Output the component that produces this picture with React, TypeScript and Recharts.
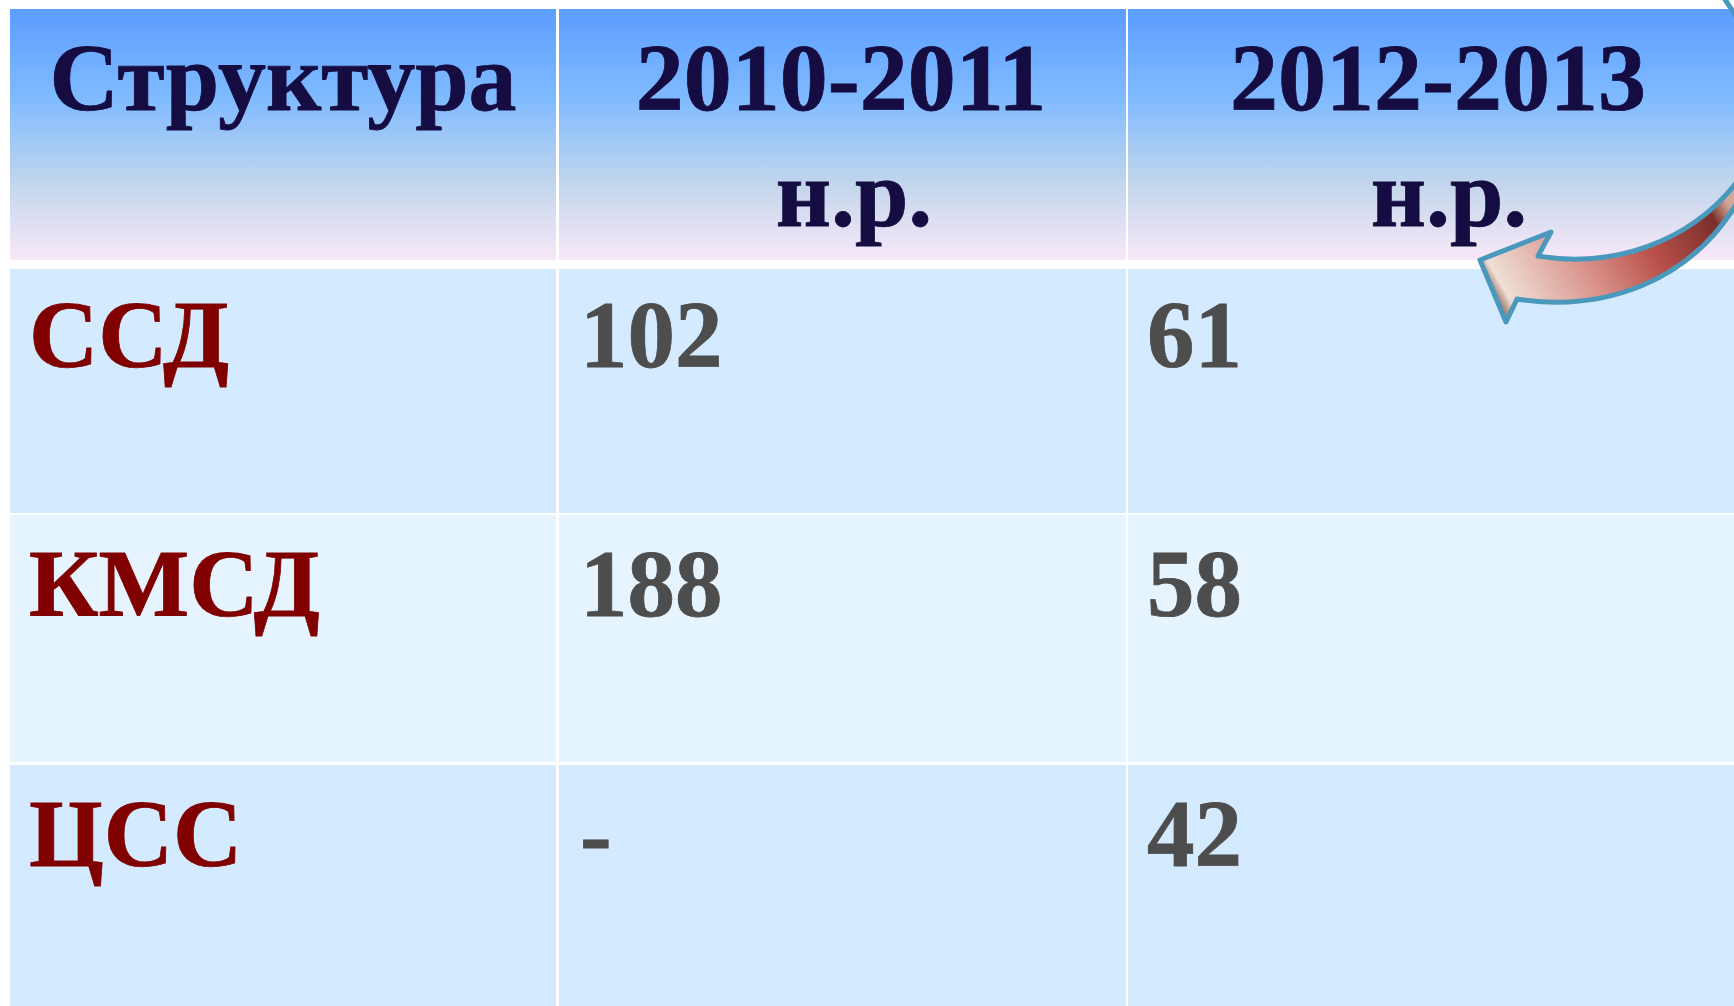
import { ScatterChart, Scatter, XAxis, YAxis, ReferenceArea } from "recharts";

const columns = ["Структура", "2010-2011", "2012-2013"];
const periodUnit = "н.р.";
const rows = ["ССД", "КМСД", "ЦСС"];
const values2011 = ["102", "188", "-"];
const values2013 = ["61", "58", "42"];

// table layout, in page pixels (the axes run 1:1 with the page)
const W = 1734;
const H = 1006;
const colEdges = [[10, 556], [559, 1126], [1128, 1734]];
const rowEdges = [[269, 513], [515, 762], [765, 1006]];
const rowFills = ["#d3eaff", "#e6f4ff", "#d3eaff"];
const rowBaselines = [367, 616, 866];
const headerTop = 9;
const headerBottom = 260;
const FONT = "'Liberation Serif', 'Times New Roman', serif";

const headerCenters = [283, 841, 1438];
const unitCenters = [854, 1449];
const cellLeft = [29, 580, 1147];

const headerPoints = [
  ...columns.map((label, i) => ({ x: headerCenters[i], y: 110, label })),
  { x: unitCenters[0], y: 226, label: periodUnit },
  { x: unitCenters[1], y: 226, label: periodUnit },
];
const rowPoints = rows.map((label, i) => ({ x: cellLeft[0], y: rowBaselines[i], label }));
const valuePoints = rows.flatMap((_, i) => [
  { x: cellLeft[1], y: rowBaselines[i], label: values2011[i] },
  { x: cellLeft[2], y: rowBaselines[i], label: values2013[i] },
]);
const arrowAnchor = [{ x: 1480, y: 260 }];

const textShape = (fill: string, anchor: string, size: number) => (p: any) => (
  <text
    x={p.cx}
    y={p.cy}
    fill={fill}
    textAnchor={anchor}
    fontFamily={FONT}
    fontWeight="bold"
    fontSize={size}
    stroke={fill}
    strokeWidth={0.8}
  >
    {p.payload.label}
  </text>
);

// decorative arrow over the table, drawn relative to its tip
const arrowShape = (p: any) => (
  <g transform={`translate(${p.cx} ${p.cy})`}>
    <path
      d="M0 0 L71 -28 L58 -4 C130 8 210 -15 260 -82 L260 -62 C210 25 120 52 37 39 L26 62 Z"
      fill="url(#arrowFill)"
      stroke="#4a99bd"
      strokeWidth={5}
      strokeLinejoin="round"
    />
    <path d="M244 -262 L256 -244" stroke="#4a99bd" strokeWidth={5} fill="none" />
  </g>
);

export default function App() {
  return (
    <div style={{ position: "absolute", left: 0, top: 0, width: W, height: H, overflow: "hidden", background: "#fff" }}>
      <ScatterChart width={W} height={H} margin={{ top: 0, right: 0, bottom: 0, left: 0 }}>
        <defs>
          <linearGradient id="headerFill" x1="0" y1="0" x2="0" y2="1">
            <stop offset="0" stopColor="#5c9dff" />
            <stop offset="0.36" stopColor="#80bbff" />
            <stop offset="0.7" stopColor="#c3d6ec" />
            <stop offset="1" stopColor="#f8e8f8" />
          </linearGradient>
          <linearGradient id="arrowFill" gradientUnits="userSpaceOnUse" x1="20" y1="58" x2="240" y2="-70">
            <stop offset="0" stopColor="#7d5a50" />
            <stop offset="0.04" stopColor="#b8968a" />
            <stop offset="0.07" stopColor="#efdfd6" />
            <stop offset="0.4" stopColor="#d89088" />
            <stop offset="0.65" stopColor="#b9504a" />
            <stop offset="0.92" stopColor="#7a2e2a" />
            <stop offset="1" stopColor="#d0a898" />
          </linearGradient>
        </defs>
        <XAxis type="number" dataKey="x" domain={[0, W]} hide />
        <YAxis type="number" dataKey="y" domain={[0, H]} reversed hide />
        {colEdges.map(([x1, x2], c) => (
          <ReferenceArea key={c} x1={x1} x2={x2} y1={headerTop} y2={headerBottom} fill="url(#headerFill)" fillOpacity={1} stroke="none" />
        ))}
        {rowEdges.map(([y1, y2], r) =>
          colEdges.map(([x1, x2], c) => (
            <ReferenceArea key={`${r}-${c}`} x1={x1} x2={x2} y1={y1} y2={y2} fill={rowFills[r]} fillOpacity={1} stroke="none" />
          ))
        )}
        <Scatter data={headerPoints} shape={textShape("#150c42", "middle", 96)} isAnimationActive={false} />
        <Scatter data={rowPoints} shape={textShape("#800000", "start", 96)} isAnimationActive={false} />
        <Scatter data={valuePoints} shape={textShape("#4d4d4d", "start", 95)} isAnimationActive={false} />
        <Scatter data={arrowAnchor} shape={arrowShape} isAnimationActive={false} />
      </ScatterChart>
    </div>
  );
}
